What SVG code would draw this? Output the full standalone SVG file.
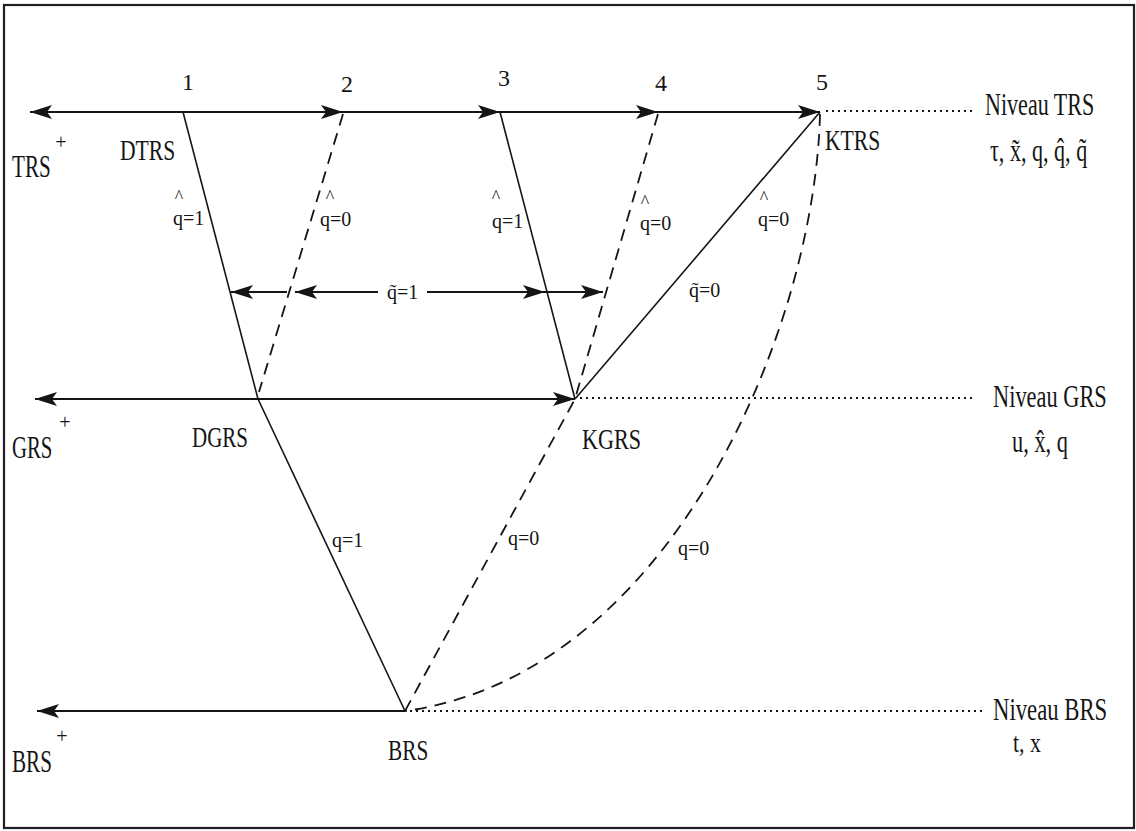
<svg xmlns="http://www.w3.org/2000/svg" width="1136" height="831" viewBox="0 0 1136 831">
<style>
 text { font-family: "Liberation Serif", "Times New Roman", serif; fill: #151515; }
 .big { font-size: 32px; }
 .mid { font-size: 30px; }
 .sm { font-size: 28px; }
 .num { font-size: 24px; text-anchor: middle; }
 .lbl { font-size: 20px; }
 .acc { font-size: 18px; }
 .sup { font-size: 20px; text-anchor: middle; }
 .ax { stroke: #151515; stroke-width: 2; fill: none; }
 .sl { stroke: #151515; stroke-width: 1.6; fill: none; }
 .da { stroke: #151515; stroke-width: 1.8; fill: none; stroke-dasharray: 12 8; }
 .dot { stroke: #151515; stroke-width: 2; fill: none; stroke-dasharray: 2 4; }
</style>
<defs>
 <marker id="ah" markerUnits="userSpaceOnUse" markerWidth="24" markerHeight="16" viewBox="0 0 24 16" refX="22" refY="7" orient="auto" overflow="visible">
  <path d="M0,0 L22,7 L0,14 L5,7 Z" fill="#151515"/>
 </marker>
</defs>
<rect x="0" y="0" width="1136" height="831" fill="#ffffff"/>
<rect id="frame" x="4" y="5" width="1130" height="823" fill="none" stroke="#241c24" stroke-width="2.2"/>

<g id="connectors">
 <!-- TRS level axis -->
 <line class="ax" x1="183" y1="112" x2="30" y2="112" marker-end="url(#ah)"/>
 <line class="ax" x1="183" y1="112" x2="343" y2="112" marker-end="url(#ah)"/>
 <line class="ax" x1="343" y1="112" x2="500" y2="112" marker-end="url(#ah)"/>
 <line class="ax" x1="500" y1="112" x2="658" y2="112" marker-end="url(#ah)"/>
 <line class="ax" x1="658" y1="112" x2="820" y2="112" marker-end="url(#ah)"/>
 <!-- GRS level axis -->
 <line class="ax" x1="258" y1="399" x2="35" y2="399" marker-end="url(#ah)"/>
 <line class="ax" x1="258" y1="399" x2="575" y2="399" marker-end="url(#ah)"/>
 <!-- BRS level axis -->
 <line class="ax" x1="405" y1="711" x2="37" y2="711" marker-end="url(#ah)"/>
 <!-- q~=1 arrows -->
 <line class="ax" x1="287" y1="292" x2="231" y2="292" marker-end="url(#ah)"/>
 <line class="ax" x1="378" y1="292" x2="295" y2="292" marker-end="url(#ah)"/>
 <line class="ax" x1="427" y1="292" x2="545" y2="292" marker-end="url(#ah)"/>
 <line class="ax" x1="545" y1="292" x2="603" y2="292" marker-end="url(#ah)"/>
 <!-- solid transitions -->
 <line class="sl" x1="183" y1="112" x2="258" y2="399"/>
 <line class="sl" x1="258" y1="399" x2="405" y2="711"/>
 <line class="sl" x1="500" y1="112" x2="575" y2="399"/>
 <line class="sl" x1="820" y1="112" x2="575" y2="399"/>
 <!-- dashed transitions -->
 <line class="da" x1="343" y1="114" x2="259" y2="392"/>
 <path class="da" d="M658,114 L575,399 L405,711"/>
 <path class="da" d="M820,114 C815,330 670,675 405,711"/>
 <!-- dotted level guides -->
 <line class="dot" x1="826" y1="111" x2="976" y2="111"/>
 <line class="dot" x1="580" y1="398" x2="974" y2="398"/>
 <line class="dot" x1="410" y1="711" x2="986" y2="711"/>
</g>

<g id="step-numbers">
 <text class="num" x="188" y="90">1</text>
 <text class="num" x="347" y="92">2</text>
 <text class="num" x="504" y="86">3</text>
 <text class="num" x="661" y="91">4</text>
 <text class="num" x="822" y="90">5</text>
</g>

<g id="node-TRS-plus">
 <text class="big" transform="translate(12,177) scale(0.66,1)">TRS</text>
 <text class="sup" x="61" y="149">+</text>
</g>
<g id="node-DTRS">
 <text class="mid" transform="translate(120,160) scale(0.72,1)">DTRS</text>
</g>
<g id="node-KTRS">
 <text class="mid" transform="translate(825,150) scale(0.72,1)">KTRS</text>
</g>
<g id="level-TRS">
 <text class="big" transform="translate(985,115) scale(0.69,1)">Niveau TRS</text>
 <text class="big" transform="translate(990,161) scale(0.69,1)">τ, x̃, q, q̂, q̃</text>
</g>

<g id="node-GRS-plus">
 <text class="big" transform="translate(12,458) scale(0.65,1)">GRS</text>
 <text class="sup" x="65" y="429">+</text>
</g>
<g id="node-DGRS">
 <text class="mid" transform="translate(192,447) scale(0.70,1)">DGRS</text>
</g>
<g id="node-KGRS">
 <text class="mid" transform="translate(582,449) scale(0.74,1)">KGRS</text>
</g>
<g id="level-GRS">
 <text class="big" transform="translate(993,407) scale(0.70,1)">Niveau GRS</text>
 <text class="big" transform="translate(1012,452) scale(0.70,1)">u, x̂, q</text>
</g>

<g id="node-BRS-plus">
 <text class="big" transform="translate(12,772) scale(0.66,1)">BRS</text>
 <text class="sup" x="62" y="743">+</text>
</g>
<g id="node-BRS">
 <text class="mid" transform="translate(388,760) scale(0.71,1)">BRS</text>
</g>
<g id="level-BRS">
 <text class="big" transform="translate(993,720) scale(0.71,1)">Niveau BRS</text>
 <text class="sm" transform="translate(1013,752) scale(0.78,1)">t, x</text>
</g>

<g id="edge-labels">
 <text class="lbl" x="173" y="225">q=1<tspan class="acc" x="174.8" y="202.6">^</tspan></text>
 <text class="lbl" x="320" y="226">q=0<tspan class="acc" x="325.8" y="203.4">^</tspan></text>
 <text class="lbl" x="492" y="228">q=1<tspan class="acc" x="491.8" y="202.6">^</tspan></text>
 <text class="lbl" x="640" y="230">q=0<tspan class="acc" x="640.8" y="208">^</tspan></text>
 <text class="lbl" x="758" y="226">q=0<tspan class="acc" x="759.8" y="204">^</tspan></text>
 <text class="lbl" x="387" y="299">q̃=1</text>
 <text class="lbl" x="689" y="297">q̃=0</text>
 <text class="lbl" x="332" y="547">q=1</text>
 <text class="lbl" x="508" y="545">q=0</text>
 <text class="lbl" x="678" y="555">q=0</text>
</g>
</svg>
